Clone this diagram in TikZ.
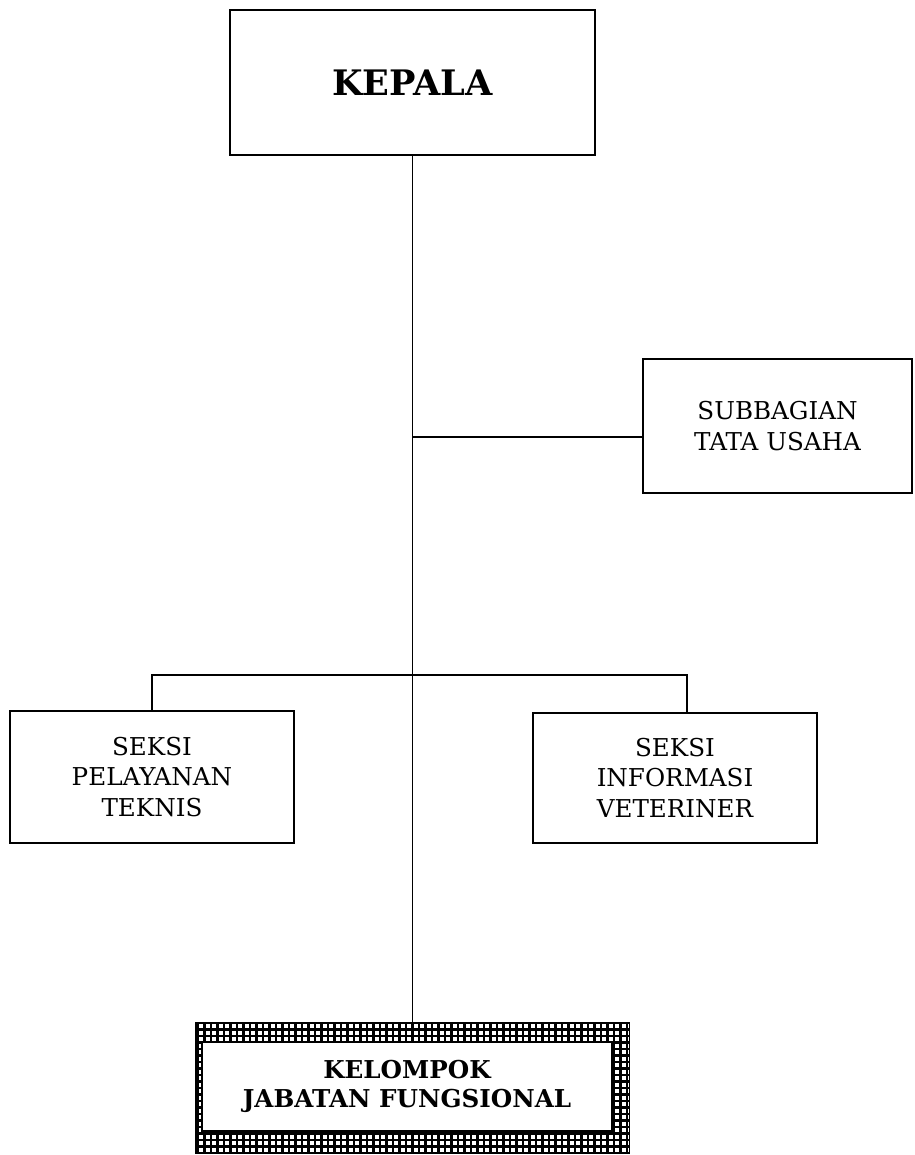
\documentclass[tikz,border=0pt]{standalone}
\usepackage{fontspec}
\setmainfont{DejaVu Serif}
\usetikzlibrary{positioning}

\begin{document}
\begin{tikzpicture}[
  x=0.02cm, y=-0.02cm,
  unit/.style={draw, line width=1.1pt, align=center, inner sep=0pt, font=\fontsize{14}{17.5}\selectfont},
  head/.style={unit, font=\bfseries\fontsize{20}{23}\selectfont},
  mesh/.style={draw, line width=1.1pt, inner sep=0pt, fill=white,
    path picture={\draw[line width=1.4pt, xstep=0.13cm, ystep=0.13cm]
      (path picture bounding box.south west) grid (path picture bounding box.north east);}},
  func/.style={unit, fill=white, line width=1.5pt, font=\bfseries\fontsize{14}{16.5}\selectfont},
  link/.style={line width=1.2pt},
  trunk/.style={line width=0.8pt}
]
\useasboundingbox (0,0) rectangle (914,1155);

\node[head, minimum width=7.3cm, minimum height=2.9cm] (kepala) at (412.5,82.5) {KEPALA};
\node[unit, minimum width=5.38cm, minimum height=2.68cm] (sub) at (777.5,426) {SUBBAGIAN\\TATA USAHA};
\node[unit, minimum width=5.68cm, minimum height=2.64cm] (pel) at (152,777) {SEKSI\\PELAYANAN\\TEKNIS};
\node[unit, minimum width=5.68cm, minimum height=2.6cm] (inf) at (675,778) {SEKSI\\INFORMASI\\VETERINER};
\node[mesh, minimum width=8.68cm, minimum height=2.6cm] (jfo) at (412.5,1088) {};
\node[func, minimum width=8.2cm, minimum height=1.78cm] (jf) at (407,1086.5) {KELOMPOK\\JABATAN FUNGSIONAL};

\coordinate (tu) at (412.5,437);

\draw[trunk] (kepala) -- (jfo);
\draw[link] (tu) -- (tu -| sub.west);
\draw[link] (pel.north) -- ++(0,-35) -| ([xshift=0.24cm]inf.north);
\end{tikzpicture}
\end{document}
